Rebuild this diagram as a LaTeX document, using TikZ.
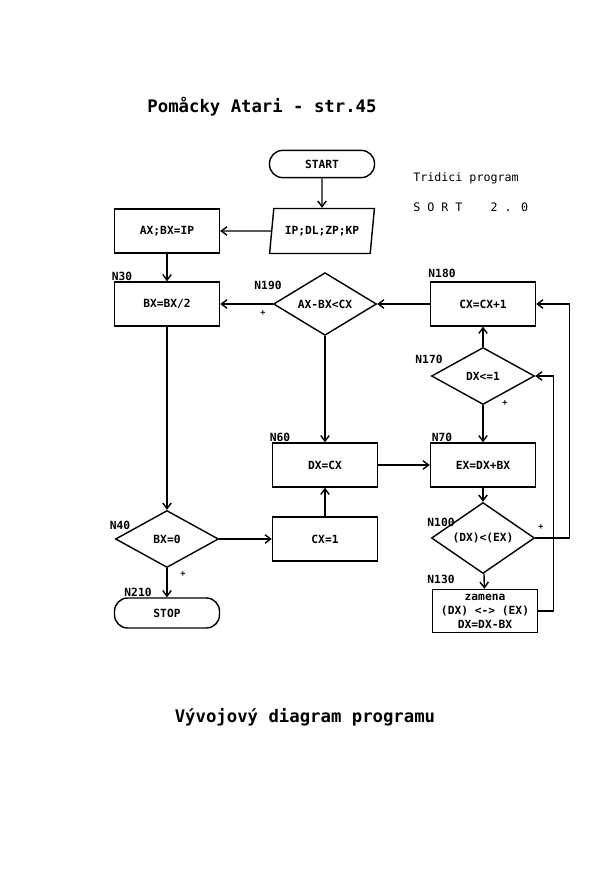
\documentclass[tikz,border=0pt]{standalone}
\usepackage{fontspec}
\newfontfamily\atari{DejaVu Sans Mono}
\usetikzlibrary{shapes.geometric,arrows.meta}
\tikzset{
  procbox/.style={draw, line width=1pt, minimum width=2.625cm, minimum height=1.1cm, inner sep=1pt, font=\atari\bfseries\fontsize{8}{10}\selectfont},
  term/.style={procbox, rounded corners=0.33cm, minimum height=0.68cm},
  io/.style={procbox, trapezium, trapezium left angle=75, trapezium right angle=105, trapezium stretches=true, minimum height=1.125cm},
  dec/.style={procbox, diamond, minimum width=2.575cm, minimum height=1.425cm, inner sep=0pt},
  lbl/.style={font=\atari\bfseries\fontsize{8}{9}\selectfont, inner sep=0pt},
  plussign/.style={font=\atari\bfseries\fontsize{6}{6}\selectfont, inner sep=0pt},
  note/.style={font=\atari\fontsize{8.3}{9}\selectfont, inner sep=0pt, anchor=west},
  heading/.style={font=\atari\bfseries\fontsize{12.3}{14}\selectfont, inner sep=0pt},
  flow/.style={->, line width=1pt},
}
\begin{document}
\begin{tikzpicture}[x=0.025cm, y=-0.025cm, >={Straight Barb[length=4pt,width=6pt]}]
  \fill[white] (0,0) rectangle (600,874);
  \useasboundingbox (0,0) rectangle (600,874);
  \node[heading] (head) at (262,107) {Pomåcky Atari - str.45};
  \node[note] (name) at (413,178) {Tridici program};
  \node[note] (ver) at (413,207) {S O R T\ \ \ \ 2 . 0};

  \node[term] (start) at (322,164) {START};
  \node[io] (input) at (322,231) {IP;DL;ZP;KP};
  \node[procbox] (init) at (167,231) {AX;BX=IP};
  \node[procbox] (half) at (167,304) {BX=BX/2};
  \node[dec] (cmp) at (325,304) {AX-BX<CX};
  \node[procbox] (inc) at (483,304) {CX=CX+1};
  \node[dec] (lim) at (483,376) {DX<=1};
  \node[procbox] (copy) at (325,465) {DX=CX};
  \node[procbox] (sum) at (483,465) {EX=DX+BX};
  \node[dec] (zero) at (167,539) {BX=0};
  \node[procbox] (one) at (325,539) {CX=1};
  \node[term, minimum height=0.75cm] (stop) at (167,613) {STOP};
  \node[dec] (less) at (483,538) {(DX)<(EX)};
  \node[procbox, align=center, minimum height=1.075cm] (swap) at (485,611) {zamena\\(DX) <-> (EX)\\DX=DX-BX};

  \node[lbl] (n30) at (122,276) {N30};
  \node[lbl] (n190) at (268,285) {N190};
  \node[lbl] (n180) at (442,273) {N180};
  \node[lbl] (n170) at (429,359) {N170};
  \node[lbl] (n60) at (280,437) {N60};
  \node[lbl] (n70) at (442,437) {N70};
  \node[lbl] (n40) at (120,525) {N40};
  \node[lbl] (n100) at (441,522) {N100};
  \node[lbl] (n210) at (138,592) {N210};
  \node[lbl] (n130) at (441,579) {N130};

  \node[plussign] (p1) at (263,313) {+};
  \node[plussign] (p2) at (505,403) {+};
  \node[plussign] (p3) at (183,574) {+};
  \node[plussign] (p4) at (541,527) {+};

  \draw[flow] (start) -- (input);
  \draw[flow] (input) -- (init);
  \draw[flow] (init) -- (half);
  \draw[flow] (cmp) -- (half);
  \draw[flow] (inc) -- (cmp);
  \draw[flow] (lim) -- (inc);
  \draw[flow] (lim) -- (sum);
  \draw[flow] (cmp) -- (copy);
  \draw[flow] (copy) -- (sum);
  \draw[flow] (half) -- (zero);
  \draw[flow] (zero) -- (one);
  \draw[flow] (one) -- (copy);
  \draw[flow] (zero) -- (stop);
  \draw[flow] (sum) -- (less);
  \draw[flow] (less) -- (swap);
  \draw[flow] (less.east) -- ++(34,0) |- (inc.east);
  \draw[flow] (swap.east) -- ++(15,0) |- (lim.east);

  \node[heading] (foot) at (305,717) {Vývojový diagram programu};
\end{tikzpicture}
\end{document}
